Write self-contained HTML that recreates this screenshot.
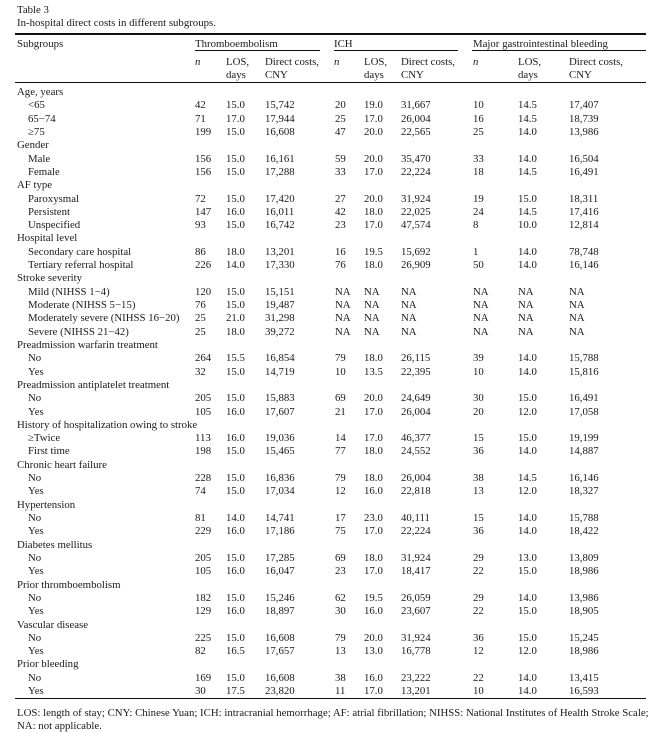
<!DOCTYPE html>
<html><head><meta charset="utf-8"><style>
body{margin:0;width:661px;height:733px;background:#fff;position:relative;font-family:"Liberation Serif",serif;font-size:10.8px;color:#1a1a1a;overflow:hidden}
.a{position:absolute;white-space:nowrap;line-height:12.5px}
.l{position:absolute;background:#111}
table{position:absolute;left:15px;top:86px;border-collapse:collapse;table-layout:fixed;width:631px}
td{padding:0;height:13.31px;line-height:13.31px;white-space:nowrap;vertical-align:middle;overflow:visible}
td:first-child{padding-left:2px}
td.i{padding-left:13px}
</style></head><body>
<div class="a" style="left:17px;top:4px">Table 3</div>
<div class="a" style="left:17px;top:17px">In-hospital direct costs in different subgroups.</div>
<div class="l" style="left:15px;top:33px;width:631px;height:2px"></div>
<div class="a" style="left:17px;top:38px">Subgroups</div>
<div class="a" style="left:195px;top:38px">Thromboembolism</div>
<div class="a" style="left:334px;top:38px">ICH</div>
<div class="a" style="left:473px;top:38px">Major gastrointestinal bleeding</div>
<div class="l" style="left:195px;top:50px;width:125px;height:1px"></div>
<div class="l" style="left:334px;top:50px;width:124px;height:1px"></div>
<div class="l" style="left:472px;top:50px;width:174px;height:1px"></div>
<div class="a" style="left:195px;top:56px;font-style:italic">n</div>
<div class="a" style="left:226px;top:56px">LOS,<br>days</div>
<div class="a" style="left:265px;top:56px">Direct costs,<br>CNY</div>
<div class="a" style="left:334px;top:56px;font-style:italic">n</div>
<div class="a" style="left:364px;top:56px">LOS,<br>days</div>
<div class="a" style="left:401px;top:56px">Direct costs,<br>CNY</div>
<div class="a" style="left:473px;top:56px;font-style:italic">n</div>
<div class="a" style="left:518px;top:56px">LOS,<br>days</div>
<div class="a" style="left:569px;top:56px">Direct costs,<br>CNY</div>
<div class="l" style="left:15px;top:82px;width:631px;height:1px"></div>
<table>
<colgroup><col style="width:180px"><col style="width:31px"><col style="width:39px"><col style="width:70px"><col style="width:29px"><col style="width:37px"><col style="width:72px"><col style="width:45px"><col style="width:51px"><col style="width:77px"></colgroup>
<tr><td colspan="10">Age, years</td></tr>
<tr><td class="i">&lt;65</td><td>42</td><td>15.0</td><td>15,742</td><td>20</td><td>19.0</td><td>31,667</td><td>10</td><td>14.5</td><td>17,407</td></tr>
<tr><td class="i">65−74</td><td>71</td><td>17.0</td><td>17,944</td><td>25</td><td>17.0</td><td>26,004</td><td>16</td><td>14.5</td><td>18,739</td></tr>
<tr><td class="i">≥75</td><td>199</td><td>15.0</td><td>16,608</td><td>47</td><td>20.0</td><td>22,565</td><td>25</td><td>14.0</td><td>13,986</td></tr>
<tr><td colspan="10">Gender</td></tr>
<tr><td class="i">Male</td><td>156</td><td>15.0</td><td>16,161</td><td>59</td><td>20.0</td><td>35,470</td><td>33</td><td>14.0</td><td>16,504</td></tr>
<tr><td class="i">Female</td><td>156</td><td>15.0</td><td>17,288</td><td>33</td><td>17.0</td><td>22,224</td><td>18</td><td>14.5</td><td>16,491</td></tr>
<tr><td colspan="10">AF type</td></tr>
<tr><td class="i">Paroxysmal</td><td>72</td><td>15.0</td><td>17,420</td><td>27</td><td>20.0</td><td>31,924</td><td>19</td><td>15.0</td><td>18,311</td></tr>
<tr><td class="i">Persistent</td><td>147</td><td>16.0</td><td>16,011</td><td>42</td><td>18.0</td><td>22,025</td><td>24</td><td>14.5</td><td>17,416</td></tr>
<tr><td class="i">Unspecified</td><td>93</td><td>15.0</td><td>16,742</td><td>23</td><td>17.0</td><td>47,574</td><td>8</td><td>10.0</td><td>12,814</td></tr>
<tr><td colspan="10">Hospital level</td></tr>
<tr><td class="i">Secondary care hospital</td><td>86</td><td>18.0</td><td>13,201</td><td>16</td><td>19.5</td><td>15,692</td><td>1</td><td>14.0</td><td>78,748</td></tr>
<tr><td class="i">Tertiary referral hospital</td><td>226</td><td>14.0</td><td>17,330</td><td>76</td><td>18.0</td><td>26,909</td><td>50</td><td>14.0</td><td>16,146</td></tr>
<tr><td colspan="10">Stroke severity</td></tr>
<tr><td class="i">Mild (NIHSS 1−4)</td><td>120</td><td>15.0</td><td>15,151</td><td>NA</td><td>NA</td><td>NA</td><td>NA</td><td>NA</td><td>NA</td></tr>
<tr><td class="i">Moderate (NIHSS 5−15)</td><td>76</td><td>15.0</td><td>19,487</td><td>NA</td><td>NA</td><td>NA</td><td>NA</td><td>NA</td><td>NA</td></tr>
<tr><td class="i">Moderately severe (NIHSS 16−20)</td><td>25</td><td>21.0</td><td>31,298</td><td>NA</td><td>NA</td><td>NA</td><td>NA</td><td>NA</td><td>NA</td></tr>
<tr><td class="i">Severe (NIHSS 21−42)</td><td>25</td><td>18.0</td><td>39,272</td><td>NA</td><td>NA</td><td>NA</td><td>NA</td><td>NA</td><td>NA</td></tr>
<tr><td colspan="10">Preadmission warfarin treatment</td></tr>
<tr><td class="i">No</td><td>264</td><td>15.5</td><td>16,854</td><td>79</td><td>18.0</td><td>26,115</td><td>39</td><td>14.0</td><td>15,788</td></tr>
<tr><td class="i">Yes</td><td>32</td><td>15.0</td><td>14,719</td><td>10</td><td>13.5</td><td>22,395</td><td>10</td><td>14.0</td><td>15,816</td></tr>
<tr><td colspan="10">Preadmission antiplatelet treatment</td></tr>
<tr><td class="i">No</td><td>205</td><td>15.0</td><td>15,883</td><td>69</td><td>20.0</td><td>24,649</td><td>30</td><td>15.0</td><td>16,491</td></tr>
<tr><td class="i">Yes</td><td>105</td><td>16.0</td><td>17,607</td><td>21</td><td>17.0</td><td>26,004</td><td>20</td><td>12.0</td><td>17,058</td></tr>
<tr><td colspan="10">History of hospitalization owing to stroke</td></tr>
<tr><td class="i">≥Twice</td><td>113</td><td>16.0</td><td>19,036</td><td>14</td><td>17.0</td><td>46,377</td><td>15</td><td>15.0</td><td>19,199</td></tr>
<tr><td class="i">First time</td><td>198</td><td>15.0</td><td>15,465</td><td>77</td><td>18.0</td><td>24,552</td><td>36</td><td>14.0</td><td>14,887</td></tr>
<tr><td colspan="10">Chronic heart failure</td></tr>
<tr><td class="i">No</td><td>228</td><td>15.0</td><td>16,836</td><td>79</td><td>18.0</td><td>26,004</td><td>38</td><td>14.5</td><td>16,146</td></tr>
<tr><td class="i">Yes</td><td>74</td><td>15.0</td><td>17,034</td><td>12</td><td>16.0</td><td>22,818</td><td>13</td><td>12.0</td><td>18,327</td></tr>
<tr><td colspan="10">Hypertension</td></tr>
<tr><td class="i">No</td><td>81</td><td>14.0</td><td>14,741</td><td>17</td><td>23.0</td><td>40,111</td><td>15</td><td>14.0</td><td>15,788</td></tr>
<tr><td class="i">Yes</td><td>229</td><td>16.0</td><td>17,186</td><td>75</td><td>17.0</td><td>22,224</td><td>36</td><td>14.0</td><td>18,422</td></tr>
<tr><td colspan="10">Diabetes mellitus</td></tr>
<tr><td class="i">No</td><td>205</td><td>15.0</td><td>17,285</td><td>69</td><td>18.0</td><td>31,924</td><td>29</td><td>13.0</td><td>13,809</td></tr>
<tr><td class="i">Yes</td><td>105</td><td>16.0</td><td>16,047</td><td>23</td><td>17.0</td><td>18,417</td><td>22</td><td>15.0</td><td>18,986</td></tr>
<tr><td colspan="10">Prior thromboembolism</td></tr>
<tr><td class="i">No</td><td>182</td><td>15.0</td><td>15,246</td><td>62</td><td>19.5</td><td>26,059</td><td>29</td><td>14.0</td><td>13,986</td></tr>
<tr><td class="i">Yes</td><td>129</td><td>16.0</td><td>18,897</td><td>30</td><td>16.0</td><td>23,607</td><td>22</td><td>15.0</td><td>18,905</td></tr>
<tr><td colspan="10">Vascular disease</td></tr>
<tr><td class="i">No</td><td>225</td><td>15.0</td><td>16,608</td><td>79</td><td>20.0</td><td>31,924</td><td>36</td><td>15.0</td><td>15,245</td></tr>
<tr><td class="i">Yes</td><td>82</td><td>16.5</td><td>17,657</td><td>13</td><td>13.0</td><td>16,778</td><td>12</td><td>12.0</td><td>18,986</td></tr>
<tr><td colspan="10">Prior bleeding</td></tr>
<tr><td class="i">No</td><td>169</td><td>15.0</td><td>16,608</td><td>38</td><td>16.0</td><td>23,222</td><td>22</td><td>14.0</td><td>13,415</td></tr>
<tr><td class="i">Yes</td><td>30</td><td>17.5</td><td>23,820</td><td>11</td><td>17.0</td><td>13,201</td><td>10</td><td>14.0</td><td>16,593</td></tr>
</table>
<div class="l" style="left:15px;top:698px;width:631px;height:1px"></div>
<div class="a" style="left:17px;top:707px">LOS: length of stay; CNY: Chinese Yuan; ICH: intracranial hemorrhage; AF: atrial fibrillation; NIHSS: National Institutes of Health Stroke Scale;</div>
<div class="a" style="left:17px;top:720px">NA: not applicable.</div>
</body></html>
